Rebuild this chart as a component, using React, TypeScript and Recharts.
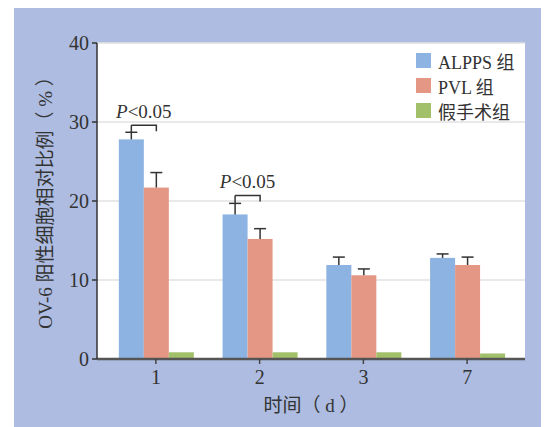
import React from 'react';
import { BarChart, Bar, XAxis, YAxis, CartesianGrid, Legend } from 'recharts';

const categories = ['1', '2', '3', '7'];
const alppsValues = [27.8, 18.3, 11.9, 12.8];
const alppsErrors = [0.9, 1.4, 1.0, 0.5];
const pvlValues = [21.7, 15.2, 10.6, 11.9];
const pvlErrors = [1.9, 1.3, 0.8, 1.0];
const shamValues = [0.85, 0.85, 0.85, 0.7];
const sigBracketLevels = [29.6, 20.7, null, null];
const sigLabels = ['<0.05', '<0.05', '', ''];
const yTicks = [0, 10, 20, 30, 40];
const seriesNames = ['ALPPS 组', 'PVL 组', '假手术组'];
const seriesColors = ['#8db3e2', '#e59786', '#a2bf69'];

const data = categories.map((c, i) => ({
  cat: c,
  alpps: alppsValues[i],
  alppsErr: alppsErrors[i],
  pvl: pvlValues[i],
  pvlErr: pvlErrors[i],
  sham: shamValues[i],
  sig: sigBracketLevels[i],
  sigLabel: sigLabels[i],
}));

const FONT = "'Liberation Serif', 'Noto Sans CJK SC', serif";
const INK = '#333';

const makeShape = (valueKey: string, errKey: string, withBracket: boolean) => (props: any) => {
  const { x, y, width, height, fill, payload } = props;
  const v = payload[valueKey];
  const ppu = Math.abs(height) / v;
  const cx = x + width / 2;
  const errTop = y - payload[errKey] * ppu;
  const cap = 6;
  const els: any[] = [
    <rect key="r" x={x} y={y} width={width} height={height} fill={fill} />,
  ];
  let lineTop = errTop;
  if (withBracket && payload.sig != null) {
    const by = y - (payload.sig - v) * ppu;
    lineTop = by;
    const rx = cx + width;
    els.push(
      <path key="b" d={`M${cx},${by} H${rx} V${by + 6}`} stroke={INK} strokeWidth={1.5} fill="none" />
    );
    els.push(
      <text key="t" x={(cx + rx) / 2} y={by - 7} textAnchor="middle" fontSize={19} fontFamily={FONT} fill={INK}>
        <tspan fontStyle="italic">P</tspan>
        {payload.sigLabel}
      </text>
    );
  }
  els.push(<line key="v" x1={cx} x2={cx} y1={y} y2={lineTop} stroke={INK} strokeWidth={1.5} />);
  els.push(<line key="c" x1={cx - cap} x2={cx + cap} y1={errTop} y2={errTop} stroke={INK} strokeWidth={1.5} />);
  return <g>{els}</g>;
};

const renderLegend = () => (
  <div style={{ fontFamily: FONT, fontSize: 18, color: INK }}>
    {seriesNames.map((n, i) => (
      <div key={n} style={{ display: 'flex', alignItems: 'center', height: 25 }}>
        <span style={{ display: 'inline-block', width: 15, height: 15, background: seriesColors[i], marginRight: 7 }} />
        <span>{n}</span>
      </div>
    ))}
  </div>
);

const renderYLabel = (props: any) => {
  const vb = props.viewBox || {};
  const cy = vb.y + vb.height / 2 - 3;
  const cx = 37;
  return (
    <text
      x={cx}
      y={cy}
      transform={`rotate(-90 ${cx} ${cy})`}
      textAnchor="middle"
      dominantBaseline="central"
      fontSize={19}
      fontFamily={FONT}
      fill={INK}
    >
      OV-6 阳性细胞相对比例（ % ）
    </text>
  );
};

export default function App() {
  return (
    <div style={{ position: 'relative', width: 541, height: 419 }}>
      <div style={{ position: 'absolute', left: 6, top: 0, width: 535, height: 419, background: '#adbce0' }} />
      <div style={{ position: 'absolute', left: 0, top: 0 }}>
        <BarChart
          width={541}
          height={419}
          data={data}
          margin={{ top: 35, right: 24, left: 0, bottom: 0 }}
          barCategoryGap="14.3%"
          barGap={0}
        >
          <CartesianGrid vertical={false} stroke="#e2e2e2" strokeWidth={1.5} fill="#ffffff" />
          <XAxis
            dataKey="cat"
            padding={{ left: 7, right: 6 }}
            height={68}
            axisLine={{ stroke: '#555', strokeWidth: 2.5 }}
            tickLine={{ stroke: '#444', strokeWidth: 1.5 }}
            tickSize={5}
            tickMargin={6}
            tick={{ fontSize: 20, fontFamily: FONT, fill: INK }}
            label={{ value: '时间（ d ）', position: 'insideBottom', offset: 15, fontSize: 19, fontFamily: FONT, fill: INK }}
          />
          <YAxis
            domain={[0, 40]}
            ticks={yTicks}
            width={89}
            axisLine={{ stroke: INK, strokeWidth: 1.5 }}
            tickLine={{ stroke: INK, strokeWidth: 1.5 }}
            tickSize={5}
            tickMargin={3}
            tick={{ fontSize: 20, fontFamily: FONT, fill: INK }}
            label={renderYLabel}
          />
          <Legend
            layout="vertical"
            align="center"
            verticalAlign="middle"
            content={renderLegend}
            wrapperStyle={{ top: 40, left: 408, width: 'auto' }}
          />
          <Bar dataKey="alpps" name={seriesNames[0]} fill={seriesColors[0]} isAnimationActive={false} shape={makeShape('alpps', 'alppsErr', true)} />
          <Bar dataKey="pvl" name={seriesNames[1]} fill={seriesColors[1]} isAnimationActive={false} shape={makeShape('pvl', 'pvlErr', false)} />
          <Bar dataKey="sham" name={seriesNames[2]} fill={seriesColors[2]} isAnimationActive={false} />
        </BarChart>
      </div>
    </div>
  );
}
